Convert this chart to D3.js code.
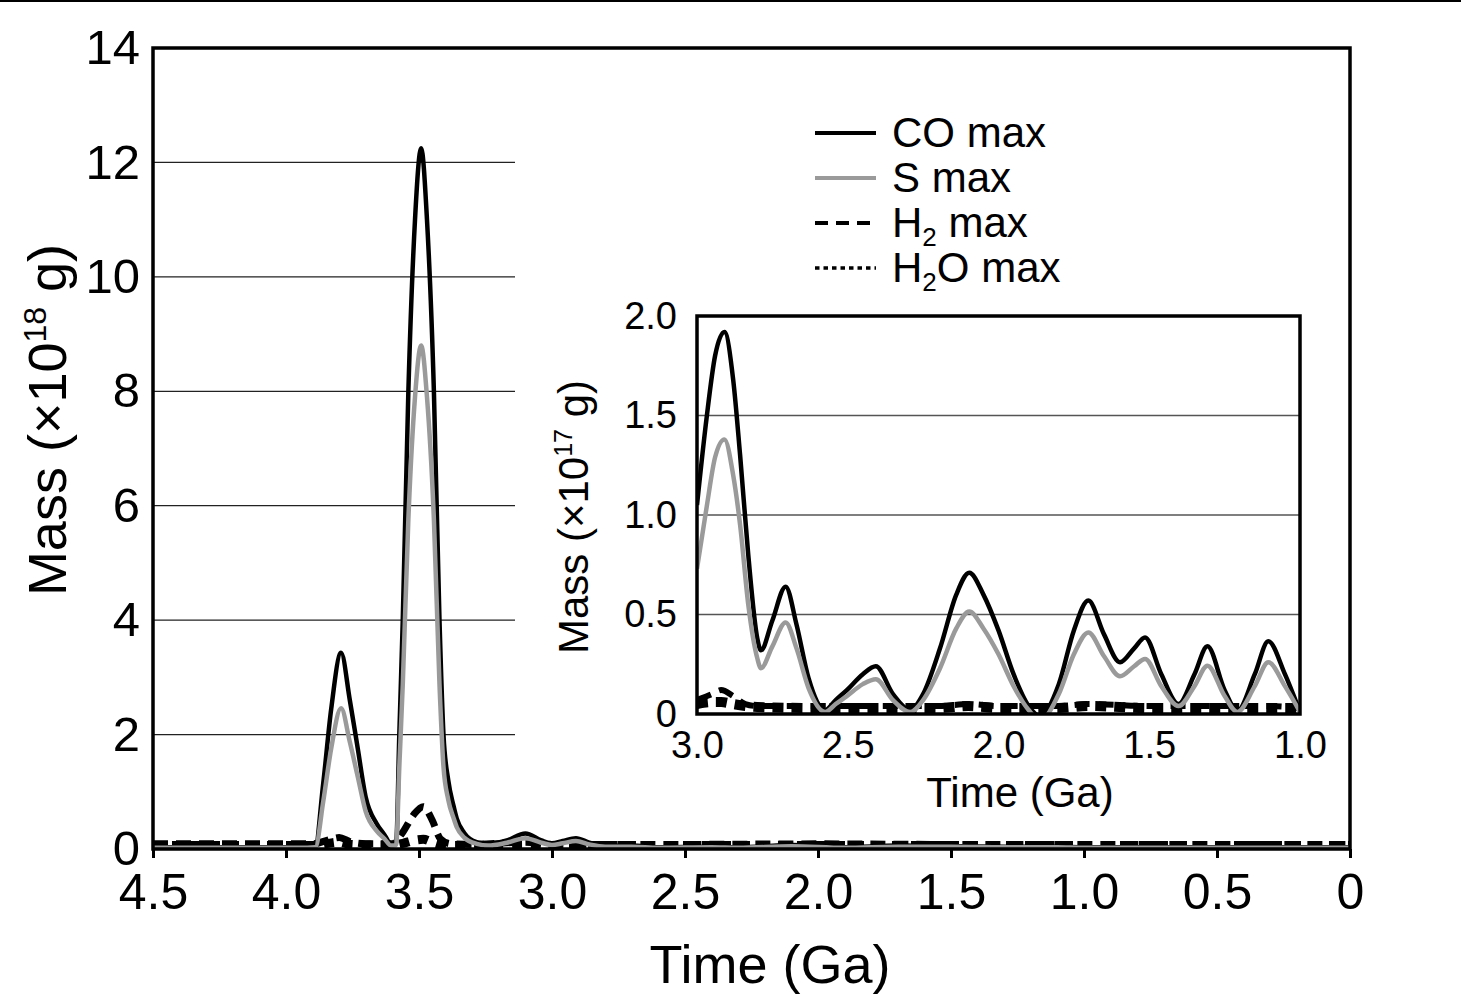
<!DOCTYPE html>
<html lang="en">
<head>
<meta charset="UTF-8">
<title>Mass vs time</title>
<script src="https://cdnjs.cloudflare.com/ajax/libs/d3/7.8.5/d3.min.js"></script>
<style>
  body { margin: 0; background: #fff; }
  svg { display: block; font-family: "Liberation Sans", Arial, sans-serif; }
</style>
</head>
<body>
<svg width="1461" height="1008"></svg>
<script>
// main panel: time (Ga), mass (x10^18 g)
var mainTime = [4.5, 4.2, 3.95, 3.89, 3.86, 3.83, 3.793, 3.76, 3.73, 3.70,
                3.66, 3.63, 3.605, 3.586, 3.574, 3.561, 3.54, 3.515, 3.492, 3.47,
                3.444, 3.423, 3.408, 3.39, 3.37, 3.358, 3.33, 3.283, 3.24, 3.17,
                3.1, 3.04, 3.0, 2.96, 2.91, 2.86, 2.8, 2.7, 2.6, 2.4,
                2.3, 2.1, 1.9, 1.7, 1.5, 1.3, 1.1, 1.0, 0.5, 0];
var mainCO = [0.03, 0.03, 0.03, 0.05, 1.15, 2.45, 3.43, 2.6, 1.75, 0.9,
              0.45, 0.25, 0.09, 0.1, 2.0, 4.0, 8.0, 11.0, 12.25, 11.0,
              8.0, 4.0, 2.0, 1.2, 0.75, 0.53, 0.28, 0.12, 0.09, 0.15,
              0.27, 0.15, 0.1, 0.14, 0.19, 0.11, 0.05, 0.06, 0.03, 0.04,
              0.03, 0.07, 0.03, 0.06, 0.05, 0.04, 0.04, 0.03, 0.03, 0.03];
var mainS = [0.02, 0.02, 0.02, 0.03, 0.83, 1.76, 2.46, 1.87, 1.26, 0.65,
             0.32, 0.18, 0.06, 0.07, 1.44, 2.88, 5.76, 7.9, 8.8, 7.9,
             5.76, 2.88, 1.44, 0.86, 0.54, 0.38, 0.2, 0.09, 0.06, 0.11,
             0.19, 0.11, 0.07, 0.1, 0.14, 0.08, 0.04, 0.04, 0.02, 0.03,
             0.02, 0.05, 0.02, 0.04, 0.04, 0.03, 0.03, 0.02, 0.02, 0.02];
var mainTraceTime = [4.5, 3.9, 3.84, 3.8, 3.76, 3.7, 3.6, 3.56, 3.52, 3.484, 3.45,
                     3.42, 3.38, 3.3, 3.1, 3.0, 2.5, 2.0, 1.5, 1.0, 0.5, 0];
var mainH2 = [0.09, 0.09, 0.16, 0.2, 0.13, 0.09, 0.09, 0.3, 0.6, 0.74, 0.5,
              0.18, 0.09, 0.08, 0.12, 0.08, 0.08, 0.09, 0.08, 0.08, 0.08, 0.08];
var mainH2O = [0.06, 0.06, 0.1, 0.12, 0.08, 0.07, 0.07, 0.1, 0.15, 0.17, 0.12,
               0.08, 0.06, 0.06, 0.09, 0.06, 0.06, 0.06, 0.06, 0.06, 0.06, 0.06];
var mainXTicks = [4.5, 4, 3.5, 3, 2.5, 2, 1.5, 1, 0.5, 0];
var mainYTicks = [0, 2, 4, 6, 8, 10, 12, 14];

// inset: time (Ga), mass (x10^17 g)
var insetTime = [3.0, 2.968, 2.94, 2.909, 2.88, 2.857, 2.83, 2.8, 2.788, 2.75,
                 2.706, 2.67, 2.63, 2.575, 2.54, 2.503, 2.45, 2.407, 2.35, 2.293,
                 2.25, 2.194, 2.14, 2.097, 2.05, 2.0, 1.95, 1.9, 1.862, 1.8,
                 1.75, 1.702, 1.65, 1.597, 1.55, 1.514, 1.46, 1.403, 1.35, 1.307,
                 1.25, 1.208, 1.15, 1.105, 1.05, 1.0];
var insetCO = [1.05, 1.49, 1.8, 1.92, 1.68, 1.3, 0.8, 0.38, 0.32, 0.47,
               0.64, 0.45, 0.18, 0.02, 0.07, 0.12, 0.2, 0.24, 0.1, 0.02,
               0.1, 0.33, 0.6, 0.71, 0.6, 0.42, 0.2, 0.04, -0.01, 0.15,
               0.42, 0.57, 0.4, 0.26, 0.33, 0.385, 0.2, 0.05, 0.2, 0.34,
               0.12, 0.015, 0.2, 0.365, 0.2, 0.01];
var insetS = [0.73, 1.04, 1.29, 1.38, 1.2, 0.95, 0.55, 0.28, 0.23, 0.34,
              0.46, 0.33, 0.13, 0.01, 0.05, 0.09, 0.15, 0.175, 0.07, 0.01,
              0.07, 0.23, 0.43, 0.515, 0.43, 0.3, 0.14, 0.02, -0.03, 0.1,
              0.3, 0.41, 0.29, 0.19, 0.24, 0.277, 0.14, 0.04, 0.14, 0.243,
              0.09, 0.01, 0.14, 0.26, 0.14, 0.01];
var insetTraceTime = [3.0, 2.95, 2.92, 2.88, 2.84, 2.8, 2.6, 2.4, 2.2, 2.1, 2.0,
                      1.8, 1.7, 1.5, 1.3, 1.1, 1.0];
var insetH2 = [0.07, 0.1, 0.12, 0.09, 0.05, 0.04, 0.04, 0.04, 0.04, 0.05, 0.04,
               0.04, 0.05, 0.04, 0.04, 0.04, 0.03];
var insetH2O = [0.05, 0.06, 0.06, 0.05, 0.04, 0.035, 0.03, 0.03, 0.03, 0.04, 0.03,
                0.03, 0.04, 0.03, 0.03, 0.03, 0.03];
var insetXTicks = [3, 2.5, 2, 1.5, 1];
var insetYTicks = [0, 0.5, 1, 1.5, 2];

var legendNames = [["CO", "", " max"], ["S", "", " max"], ["H", "2", " max"], ["H", "2", "O max"]];

var GREY = "#9a9a9a";
var fmt1 = function(d) { return d === 0 ? "0" : d3.format(".1f")(d); };

var svg = d3.select("svg");
svg.append("rect").attr("width", 1461).attr("height", 1008).attr("fill", "#fff");
svg.append("line").attr("x1", 0).attr("x2", 1461).attr("y1", 1).attr("y2", 1)
   .attr("stroke", "#000").attr("stroke-width", 2);

// ---------- main panel ----------
var x = d3.scaleLinear().domain([4.5, 0]).range([153, 1350]);
var y = d3.scaleLinear().domain([0, 14]).range([849, 48]);

var defs = svg.append("defs");
defs.append("clipPath").attr("id", "clipMain").append("rect")
    .attr("x", 153).attr("y", 48).attr("width", 1197).attr("height", 801);

// grid (right part hidden behind the inset box in the original)
svg.append("g").selectAll("line")
   .data(mainYTicks.filter(function(d) { return d > 0 && d < 14; }))
   .enter().append("line")
   .attr("x1", x(4.5)).attr("x2", 515)
   .attr("y1", function(d) { return y(d); }).attr("y2", function(d) { return y(d); })
   .attr("stroke", "#222").attr("stroke-width", 1.2);

// white box behind legend + inset
svg.append("rect").attr("x", 515).attr("y", 56).attr("width", 832).attr("height", 764).attr("fill", "#fff");

var lineMain = function(t, v) {
  return d3.line().x(function(d) { return x(d[0]); }).y(function(d) { return y(d[1]); })
           .curve(d3.curveMonotoneX)(d3.zip(t, v));
};

var gm = svg.append("g").attr("clip-path", "url(#clipMain)");
gm.append("path").attr("d", lineMain(mainTraceTime, mainH2O)).attr("fill", "none")
  .attr("stroke", "#000").attr("stroke-width", 9).attr("stroke-dasharray", "10,9");
gm.append("path").attr("d", lineMain(mainTraceTime, mainH2)).attr("fill", "none")
  .attr("stroke", "#000").attr("stroke-width", 7).attr("stroke-dasharray", "15,8");
gm.append("path").attr("d", lineMain(mainTime, mainCO)).attr("fill", "none")
  .attr("stroke", "#000").attr("stroke-width", 4.5);
gm.append("path").attr("d", lineMain(mainTime, mainS)).attr("fill", "none")
  .attr("stroke", GREY).attr("stroke-width", 4.5);

// axes
var xAxis = svg.append("g").attr("transform", "translate(0," + y(0) + ")")
  .call(d3.axisBottom(x).tickValues(mainXTicks).tickFormat(fmt1)
        .tickSizeInner(9).tickSizeOuter(0).tickPadding(15));
xAxis.select(".domain").remove();
xAxis.selectAll(".tick line").attr("stroke", "#000").attr("stroke-width", 3);
xAxis.selectAll("text").attr("font-size", 50).attr("fill", "#000")
     .attr("font-family", "Liberation Sans, Arial, sans-serif");

var yAxis = svg.append("g").attr("transform", "translate(" + x(4.5) + ",0)")
  .call(d3.axisLeft(y).tickValues(mainYTicks).tickFormat(d3.format("d"))
        .tickSize(0).tickPadding(13));
yAxis.select(".domain").remove();
yAxis.selectAll("text").attr("font-size", 49).attr("fill", "#000")
     .attr("font-family", "Liberation Sans, Arial, sans-serif");

svg.append("rect").attr("x", 153).attr("y", 48).attr("width", 1197).attr("height", 801)
   .attr("fill", "none").attr("stroke", "#000").attr("stroke-width", 3.5);

svg.append("text").attr("x", 770).attr("y", 983).attr("text-anchor", "middle")
   .attr("font-size", 54).text("Time (Ga)");

var yt = svg.append("text").attr("transform", "translate(66,420) rotate(-90)")
   .attr("text-anchor", "middle").attr("font-size", 54);
yt.append("tspan").text("Mass (\u00d710");
yt.append("tspan").attr("dy", -20).attr("font-size", 32).text("18");
yt.append("tspan").attr("dy", 20).text(" g)");

// ---------- legend ----------
var legY = d3.scaleLinear().domain([0, 3]).range([133, 268]);
var legStyles = [
  {stroke: "#000", w: 4, dash: null},
  {stroke: GREY, w: 4, dash: null},
  {stroke: "#000", w: 4, dash: "13,8"},
  {stroke: "#000", w: 3.5, dash: "4.5,4"}
];
var leg = svg.append("g");
legendNames.forEach(function(n, i) {
  var s = legStyles[i];
  leg.append("line").attr("x1", 815).attr("x2", 876).attr("y1", legY(i)).attr("y2", legY(i))
     .attr("stroke", s.stroke).attr("stroke-width", s.w).attr("stroke-dasharray", s.dash);
  var t = leg.append("text").attr("x", 892).attr("y", legY(i) + 14).attr("font-size", 42);
  t.append("tspan").text(n[0]);
  if (n[1]) {
    t.append("tspan").attr("dy", 9).attr("font-size", 26).text(n[1]);
    t.append("tspan").attr("dy", -9).text(n[2]);
  } else {
    t.append("tspan").text(n[2]);
  }
});

// ---------- inset ----------
var xi = d3.scaleLinear().domain([3, 1]).range([697, 1300]);
var yi = d3.scaleLinear().domain([0, 2]).range([714, 316]);

defs.append("clipPath").attr("id", "clipInset").append("rect")
    .attr("x", 697).attr("y", 316).attr("width", 603).attr("height", 398);

svg.append("g").selectAll("line")
   .data(insetYTicks.filter(function(d) { return d > 0 && d < 2; }))
   .enter().append("line")
   .attr("x1", xi(3)).attr("x2", xi(1))
   .attr("y1", function(d) { return yi(d); }).attr("y2", function(d) { return yi(d); })
   .attr("stroke", "#555").attr("stroke-width", 1.5);

var lineInset = function(t, v) {
  return d3.line().x(function(d) { return xi(d[0]); }).y(function(d) { return yi(d[1]); })
           .curve(d3.curveMonotoneX)(d3.zip(t, v));
};

var gi = svg.append("g").attr("clip-path", "url(#clipInset)");
gi.append("path").attr("d", lineInset(insetTraceTime, insetH2O)).attr("fill", "none")
  .attr("stroke", "#000").attr("stroke-width", 10).attr("stroke-dasharray", "11,8");
gi.append("path").attr("d", lineInset(insetTraceTime, insetH2)).attr("fill", "none")
  .attr("stroke", "#000").attr("stroke-width", 6).attr("stroke-dasharray", "15,9");
gi.append("path").attr("d", lineInset(insetTime, insetCO)).attr("fill", "none")
  .attr("stroke", "#000").attr("stroke-width", 4.5);
gi.append("path").attr("d", lineInset(insetTime, insetS)).attr("fill", "none")
  .attr("stroke", GREY).attr("stroke-width", 4.5);

var xiAxis = svg.append("g").attr("transform", "translate(0," + yi(0) + ")")
  .call(d3.axisBottom(xi).tickValues(insetXTicks).tickFormat(d3.format(".1f"))
        .tickSize(0).tickPadding(17));
xiAxis.select(".domain").remove();
xiAxis.selectAll("text").attr("font-size", 38).attr("fill", "#000")
      .attr("font-family", "Liberation Sans, Arial, sans-serif");

var yiAxis = svg.append("g").attr("transform", "translate(" + xi(3) + ",0)")
  .call(d3.axisLeft(yi).tickValues(insetYTicks).tickFormat(fmt1)
        .tickSize(0).tickPadding(20));
yiAxis.select(".domain").remove();
yiAxis.selectAll("text").attr("font-size", 38).attr("fill", "#000")
      .attr("font-family", "Liberation Sans, Arial, sans-serif");

svg.append("rect").attr("x", 697).attr("y", 316).attr("width", 603).attr("height", 398)
   .attr("fill", "none").attr("stroke", "#000").attr("stroke-width", 3.5);

svg.append("text").attr("x", 1020).attr("y", 807).attr("text-anchor", "middle")
   .attr("font-size", 42).text("Time (Ga)");

var yit = svg.append("text").attr("transform", "translate(588,517) rotate(-90)")
   .attr("text-anchor", "middle").attr("font-size", 42);
yit.append("tspan").text("Mass (\u00d710");
yit.append("tspan").attr("dy", -16).attr("font-size", 25).text("17");
yit.append("tspan").attr("dy", 16).text(" g)");
</script>
</body>
</html>
